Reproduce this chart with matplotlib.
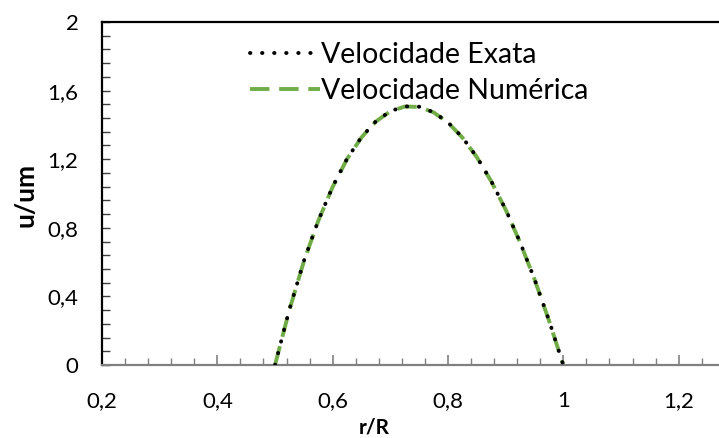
import matplotlib
matplotlib.use("Agg")
from matplotlib import pyplot as plt
from matplotlib.ticker import MultipleLocator, FuncFormatter

plt.rcParams['font.family'] = ['Lato', 'DejaVu Sans']

# velocity profiles
r_exata = [0.5, 0.525, 0.55, 0.575, 0.6, 0.625, 0.65, 0.675, 0.7, 0.725, 0.75,
           0.775, 0.8, 0.825, 0.85, 0.875, 0.9, 0.925, 0.95, 0.975, 1.0]
u_exata = [0.0, 0.324, 0.605, 0.842, 1.04, 1.203, 1.329, 1.421, 1.48, 1.508, 1.506,
           1.474, 1.415, 1.327, 1.213, 1.072, 0.907, 0.716, 0.501, 0.262, 0.0]
r_num = [0.5, 0.525, 0.55, 0.575, 0.6, 0.625, 0.65, 0.675, 0.7, 0.725, 0.75,
         0.775, 0.8, 0.825, 0.85, 0.875, 0.9, 0.925, 0.95, 0.975, 1.0]
u_num = [0.0, 0.322, 0.603, 0.840, 1.038, 1.201, 1.327, 1.420, 1.479, 1.507, 1.505,
         1.473, 1.414, 1.326, 1.212, 1.071, 0.906, 0.715, 0.500, 0.261, 0.0]

fig = plt.figure(figsize=(7.19, 4.38), dpi=100)
ax = fig.add_axes([102/719, 1 - 365/438, 1 - 102/719 + 0.01, (365 - 22)/438])

ax.plot(r_num, u_num, color='#70AD47', lw=2.8, linestyle=(0, (5, 2.5)),
        label='Velocidade Numérica', zorder=2)
ax.plot(r_exata, u_exata, color='black', lw=2.8, linestyle=(0, (0.1, 3.0)),
        dash_capstyle='round', label='Velocidade Exata', zorder=3)

ax.set_xlim(0.2, 0.2 + 617/570)
ax.set_ylim(0, 2)
ax.xaxis.set_major_locator(MultipleLocator(0.2))
ax.xaxis.set_minor_locator(MultipleLocator(0.04))
ax.yaxis.set_major_locator(MultipleLocator(0.4))
ax.yaxis.set_minor_locator(MultipleLocator(0.08))
fmt = FuncFormatter(lambda v, p: ('%g' % round(v, 2)).replace('.', ','))
ax.xaxis.set_major_formatter(fmt)
ax.yaxis.set_major_formatter(fmt)

ax.spines['right'].set_visible(False)
ax.spines['top'].set_linewidth(1.6)
ax.spines['left'].set_linewidth(1.6)
ax.spines['bottom'].set_color('#808080')
ax.spines['bottom'].set_linewidth(1.6)

ax.tick_params(axis='y', which='both', direction='in', length=6, width=1, color='#404040',
               labelsize=16, pad=17)
ax.tick_params(axis='x', which='major', direction='in', length=7, width=1.2, color='#808080',
               labelsize=16, pad=19)
ax.tick_params(axis='x', which='minor', direction='in', length=5, width=1, color='#808080')

fig.text(374/719, 1 - 427/438, 'r/R', fontsize=15, fontweight='bold',
         ha='center', va='center')
fig.text(26/719, 1 - 195/438, 'u/um', fontsize=19, fontweight='bold',
         ha='center', va='center', rotation=90)

handles, labels = ax.get_legend_handles_labels()
ax.legend(handles[::-1], labels[::-1], loc='upper left', bbox_to_anchor=(0.205, 1.0),
          frameon=False, fontsize=20.5, handlelength=2.45, handletextpad=0.05,
          labelspacing=0.36, borderaxespad=0.3)

fig.savefig('out.png', dpi=100)
